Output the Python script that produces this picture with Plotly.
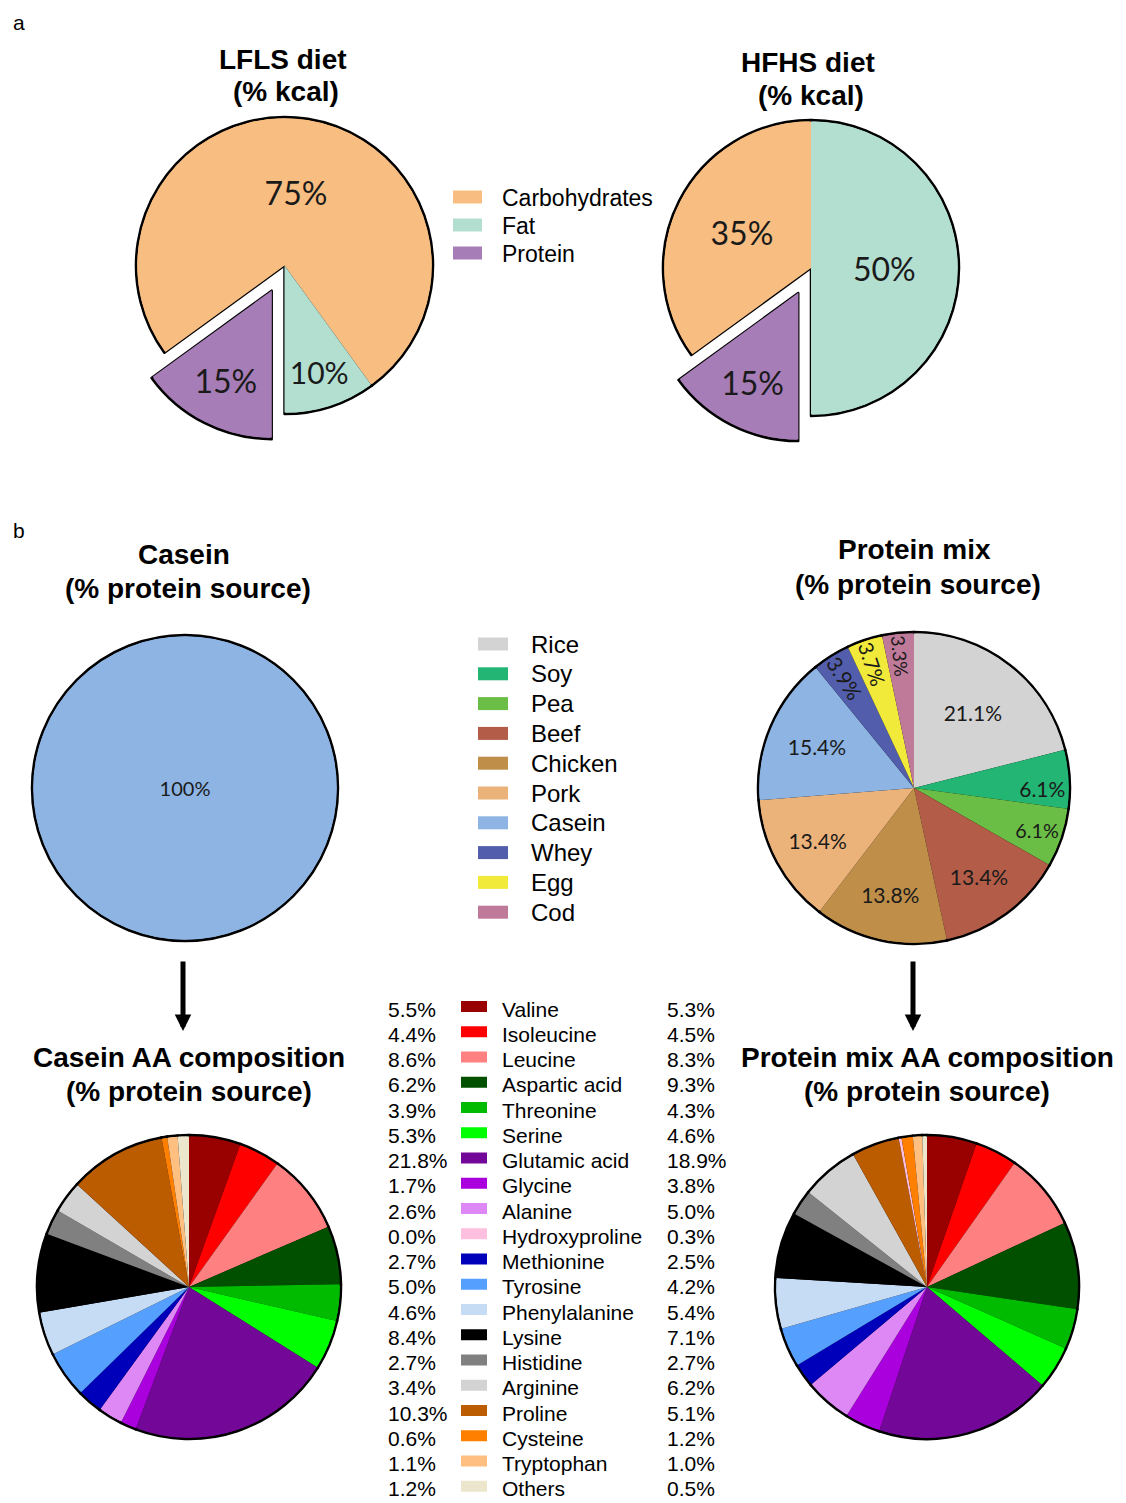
import plotly.graph_objects as go

# The page body has an 8px margin; the figure is sized so it fits in the window
OFF = 8
W, H = 1126 - OFF, 1503 - OFF

# ---------------- data ----------------
macro_labels = ["Carbohydrates", "Fat", "Protein"]
lfls_values = [75, 10, 15]
hfhs_values = [35, 50, 15]
macro_colors = ["#F8BD80", "#B3DFD1", "#A77DB7"]
macro_pull = [0, 0, 0.19]

source_labels = ["Rice", "Soy", "Pea", "Beef", "Chicken", "Pork", "Casein", "Whey", "Egg", "Cod"]
mix_values = [21.1, 6.1, 6.1, 13.4, 13.8, 13.4, 15.4, 3.9, 3.7, 3.3]
source_colors = ["#D3D3D3", "#22B573", "#6BBE45", "#B35C48", "#BF8F4A",
                 "#EBB27A", "#8DB4E2", "#525EAB", "#F2EA3A", "#BF7A9A"]
casein_source_labels = ["Casein"]
casein_source_values = [100]

aa_labels = ["Valine", "Isoleucine", "Leucine", "Aspartic acid", "Threonine", "Serine",
             "Glutamic acid", "Glycine", "Alanine", "Hydroxyproline", "Methionine",
             "Tyrosine", "Phenylalanine", "Lysine", "Histidine", "Arginine", "Proline",
             "Cysteine", "Tryptophan", "Others"]
casein_aa = [5.5, 4.4, 8.6, 6.2, 3.9, 5.3, 21.8, 1.7, 2.6, 0.0, 2.7, 5.0, 4.6, 8.4,
             2.7, 3.4, 10.3, 0.6, 1.1, 1.2]
mix_aa = [5.3, 4.5, 8.3, 9.3, 4.3, 4.6, 18.9, 3.8, 5.0, 0.3, 2.5, 4.2, 5.4, 7.1,
          2.7, 6.2, 5.1, 1.2, 1.0, 0.5]
aa_colors = ["#990000", "#FF0000", "#FF8080", "#005000", "#00BB00", "#00FF00",
             "#730797", "#AA00DD", "#DD88F5", "#FFC0E0", "#0000BB", "#55A0FF",
             "#C6DCF5", "#000000", "#808080", "#D3D3D3", "#BB5C00", "#FF8000",
             "#FFBF80", "#EBE6CC"]
# order of slices in the AA pies (hydroxyproline drawn after proline)
aa_pie_order = [0, 1, 2, 3, 4, 5, 6, 7, 8, 10, 11, 12, 13, 14, 15, 16, 9, 17, 18, 19]

# ---------------- helpers ----------------
LABEL_FONT = "Lato"
TITLE_FONT = "Liberation Sans"


def px(x):
    return (x - OFF) / W


def py(y):
    return 1 - (y - OFF) / H


def dom(cx, cy, r, pull=0.0):
    h = r * (1 + pull)
    return dict(x=[px(cx - h), px(cx + h)], y=[py(cy + h), py(cy - h)])


fig = go.Figure()


def add_pie(labels, values, colors, cx, cy, r, pull=None, text=None, tsize=20,
            orient="horizontal", rotation=0, small_text=None):
    maxp = max(pull) if pull else 0.0
    common = dict(labels=labels, values=values, sort=False, direction="clockwise",
                  rotation=rotation, showlegend=False, hoverinfo="label+value")
    if pull:
        common["pull"] = pull
    # outline trace (black border)
    fig.add_trace(go.Pie(**common, domain=dom(cx, cy, r, maxp),
                         marker=dict(colors=colors, line=dict(color="black", width=2.5)),
                         textinfo="none"))
    # fill trace on top (no border), slightly smaller
    kw = dict(textinfo="none")
    if text is not None:
        kw = dict(text=text, texttemplate="%{text}", textposition="inside",
                  insidetextorientation=orient,
                  textfont=dict(family=LABEL_FONT, size=tsize, color="#1a1a1a"))
    fig.add_trace(go.Pie(**common, domain=dom(cx, cy, r - 1.4, maxp),
                         marker=dict(colors=colors, line=dict(width=0)), **kw))
    if small_text is not None:
        # transparent overlay carrying radial labels of the thin slices
        fig.add_trace(go.Pie(**common, domain=dom(cx, cy, r - 1.4, maxp),
                             marker=dict(colors=["rgba(0,0,0,0)"] * len(values),
                                         line=dict(width=0)),
                             text=small_text, texttemplate="%{text}", textposition="inside",
                             insidetextorientation="radial",
                             textfont=dict(family=LABEL_FONT, size=tsize, color="#1a1a1a")))


# panel a pies
add_pie(macro_labels, lfls_values, macro_colors, 284.5, 265.5, 148.5, pull=macro_pull,
        text=[f"{v}%" for v in lfls_values], tsize=32, rotation=234)
add_pie(macro_labels, hfhs_values, macro_colors, 811, 268, 148, pull=macro_pull,
        text=[f"{v}%" for v in hfhs_values], tsize=32, rotation=234)

# panel b source pies
add_pie(casein_source_labels, casein_source_values, [source_colors[6]], 185, 788, 153,
        text=[f"{v}%" for v in casein_source_values], tsize=20)
big = [f"{v:.1f}%" if v > 5 else "" for v in mix_values]
small = [f"{v:.1f}%" if v <= 5 else "" for v in mix_values]
add_pie(source_labels, mix_values, source_colors, 914, 788, 156,
        text=big, tsize=21, orient="horizontal", small_text=small)

# AA pies
pl = [aa_labels[i] for i in aa_pie_order]
pc = [aa_colors[i] for i in aa_pie_order]
add_pie(pl, [casein_aa[i] for i in aa_pie_order], pc, 189, 1287, 152)
add_pie(pl, [mix_aa[i] for i in aa_pie_order], pc, 927, 1287, 152)

annotations = []
shapes = []


def txt(x, y, s, size, bold=False, family=TITLE_FONT, xanchor="center"):
    annotations.append(dict(x=px(x), y=py(y), xref="paper", yref="paper",
                            text=f"<b>{s}</b>" if bold else s, showarrow=False,
                            xanchor=xanchor, yanchor="middle",
                            font=dict(family=family, size=size, color="black")))


def swatch(x0, x1, yc, h, color):
    shapes.append(dict(type="rect", xref="paper", yref="paper",
                       x0=px(x0), x1=px(x1), y0=py(yc + h / 2), y1=py(yc - h / 2),
                       fillcolor=color, line=dict(width=0)))


# panel letters
txt(10.5, 23, "a", 21, xanchor="left")
txt(10.5, 530, "b", 21, xanchor="left")

# titles
txt(283, 59, "LFLS diet", 28, bold=True)
txt(286, 91, "(% kcal)", 28, bold=True)
txt(808, 63, "HFHS diet", 28, bold=True)
txt(811, 95, "(% kcal)", 28, bold=True)
txt(184, 554, "Casein", 28, bold=True)
txt(188, 588, "(% protein source)", 28, bold=True)
txt(914, 549, "Protein mix", 28, bold=True)
txt(918, 584, "(% protein source)", 28, bold=True)
txt(189, 1057, "Casein AA composition", 28, bold=True)
txt(189, 1091, "(% protein source)", 28, bold=True)
txt(927, 1057, "Protein mix AA composition", 28, bold=True)
txt(927, 1091, "(% protein source)", 28, bold=True)

# macro legend
for i, (lab, col) in enumerate(zip(macro_labels, macro_colors)):
    yc = 197 + 28 * i
    swatch(453, 482, yc, 13, col)
    txt(500, yc + 1, lab, 23, xanchor="left")

# protein source legend
for i, (lab, col) in enumerate(zip(source_labels, source_colors)):
    yc = 644 + 29.8 * i
    swatch(478, 508, yc, 13, col)
    txt(529, yc, lab, 24, xanchor="left")

# AA legend with values on both sides
for i, lab in enumerate(aa_labels):
    yc = 1006.5 + 25.25 * i
    swatch(461, 487, yc, 11, aa_colors[i])
    txt(500, yc + 2.5, lab, 21, xanchor="left")
    txt(386, yc + 2.5, f"{casein_aa[i]:.1f}%", 21, xanchor="left")
    txt(665, yc + 2.5, f"{mix_aa[i]:.1f}%", 21, xanchor="left")

# arrows
for ax_x in (183, 913):
    annotations.append(dict(x=px(ax_x), y=py(1031), xref="paper", yref="paper",
                            ax=0, ay=-71, axref="pixel", ayref="pixel", text="",
                            showarrow=True, arrowhead=2, arrowsize=0.66, arrowwidth=5,
                            arrowcolor="black"))

fig.update_layout(width=W, height=H, margin=dict(l=0, r=0, t=0, b=0),
                  paper_bgcolor="white", plot_bgcolor="white", showlegend=False,
                  annotations=annotations, shapes=shapes)

fig.write_html("out.html")
